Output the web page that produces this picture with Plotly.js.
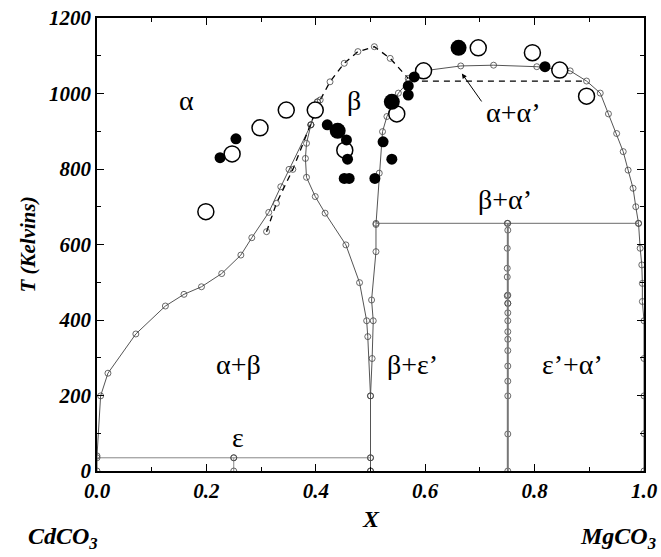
<html><head><script src="https://cdn.plot.ly/plotly-3.0.1.min.js"></script></head><body style="margin:0">
<div id="c" style="width:661px;height:557px"></div>
<script>
// alpha / alpha+beta boundary (solid)
const aX=[0,0,0.0066,0.020,0.071,0.125,0.159,0.191,0.228,0.263,0.283,0.314,0.336,0.351,0.391,0.403];
const aT=[0,40,199,259,363,437,468,488,523,572,618,685,753,799,917,978];
// beta left boundary (solid)
const bLX=[0.403,0.391,0.383,0.381,0.383,0.399,0.417,0.455,0.480,0.493,0.495,0.500,0.500,0.500];
const bLT=[978,917,868,828,778,727,683,599,499,398,356,199,35,0];
// beta right boundary & alpha' dome (solid)
const bRX=[0.500,0.500,0.503,0.505,0.502,0.510,0.510,0.516,0.522,0.530,0.551,0.570,0.578,0.597,0.665,0.725,0.804,0.865,0.895,0.920,0.935,0.950,0.962,0.971,0.980,0.985,0.990,0.993,0.996,0.997,0.997,1.0,1.0,1.0,1.0,1.0];
const bRT=[0,199,298,398,453,581,653,789,899,939,1001,1033,1044,1060,1073,1075,1071,1060,1033,1001,946,894,846,797,749,700,656,590,546,497,449,398,298,199,99,0];
// dashed curve
const dX=[0.310,0.328,0.358,0.391,0.408,0.426,0.452,0.477,0.507,0.536,0.569];
const dT=[634,709,799,917,983,1031,1080,1111,1124,1093,1040];
const dHX=[0.594,0.895], dHT=[1033,1033];
// beta+eps' tie line and eps' vertical
const tX=[0.510,0.75,0.99], tT=[656,656,656];
const vX=[0.751,0.751,0.750,0.750,0.750,0.750,0.751,0.751,0.751,0.751,0.751,0.751,0.751,0.751,0.751,0.751,0.751,0.751,0.751];
const vT=[656,638,590,537,514,464,444,466,419,398,369,349,319,278,238,199,98,0,444];
const eX=[0,0.25,0.5], eT=[35,35,35];
const e2X=[0.25,0.25], e2T=[35,0];
// experimental points
const oX=[0.199,0.247,0.298,0.346,0.399,0.453,0.548,0.597,0.697,0.796,0.846,0.895];
const oT=[687,840,909,956,956,850,946,1060,1121,1108,1062,993];
const fX=[0.225,0.254,0.421,0.456,0.458,0.452,0.461,0.508,0.523,0.539,0.569,0.569,0.580,0.819];
const fT=[830,880,917,877,826,775,775,775,872,826,996,1020,1044,1071];
const FX=[0.440,0.539,0.661], FT=[901,978,1121];

const ln={color:'#555',width:1};
const mk={symbol:'circle-open',size:6,color:'#444',line:{width:0.8}};
const tr=[
 {x:aX,y:aT,mode:'lines+markers',line:ln,marker:mk},
 {x:bLX,y:bLT,mode:'lines+markers',line:ln,marker:mk},
 {x:bRX,y:bRT,mode:'lines+markers',line:ln,marker:mk},
 {x:dX,y:dT,mode:'lines+markers',line:{color:'#000',width:1.3,dash:'6px,5px'},marker:mk},
 {x:dHX,y:dHT,mode:'lines',line:{color:'#000',width:1.3,dash:'6px,5px'}},
 {x:tX,y:tT,mode:'lines+markers',line:{color:'#888',width:1.3},marker:mk},
 {x:vX,y:vT,mode:'markers',marker:mk},
 {x:[0.751,0.751],y:[0,656],mode:'lines',line:{color:'#777',width:2}},
 {x:eX,y:eT,mode:'lines+markers',line:{color:'#888',width:1},marker:mk},
 {x:e2X,y:e2T,mode:'lines+markers',line:{color:'#888',width:1},marker:mk},
 {x:oX,y:oT,mode:'markers',marker:{symbol:'circle',size:16,color:'#fff',line:{color:'#000',width:1.5}}},
 {x:fX,y:fT,mode:'markers',marker:{symbol:'circle',size:11,color:'#000'}},
 {x:FX,y:FT,mode:'markers',marker:{symbol:'circle',size:16,color:'#000'}}
];
const ax={showgrid:false,zeroline:false,showline:true,mirror:'ticks',linecolor:'#000',linewidth:1.5,ticks:'inside',ticklen:7,tickcolor:'#000',
 tickfont:{family:'Liberation Serif',size:21,weight:'bold',style:'italic',color:'#000'}};
const lab=(x,y,t)=>({x:x,y:y,text:t,showarrow:false,font:{family:'Liberation Serif',size:28,color:'#000'}});
const bl=(x,y,t,xa)=>({xref:'paper',yref:'paper',x:x,y:y,xanchor:xa||'center',text:t,showarrow:false,font:{family:'Liberation Serif',size:24,weight:'bold',style:'italic',color:'#000'}});
Plotly.newPlot('c',tr,{
 width:661,height:557,showlegend:false,margin:{l:97,r:17,t:18,b:86},paper_bgcolor:'#fff',plot_bgcolor:'#fff',
 xaxis:Object.assign({},ax,{range:[0,1],dtick:0.2,tickformat:'.1f',minor:{dtick:0.1,ticks:'inside',ticklen:4,tickcolor:'#000'}}),
 yaxis:Object.assign({},ax,{range:[0,1200],dtick:200,minor:{dtick:100,ticks:'inside',ticklen:4,tickcolor:'#000'},
   title:{text:'T (Kelvins)',standoff:8,font:{family:'Liberation Serif',size:21,weight:'bold',style:'italic',color:'#000'}}}),
 annotations:[
  lab(0.163,982,'α'),lab(0.47,982,'β'),lab(0.76,950,'α+α’'),lab(0.746,718,'β+α’'),
  lab(0.258,283,'α+β'),lab(0.576,283,'β+ε’'),lab(0.87,283,'ε’+α’'),lab(0.258,90,'ε'),
  {x:0.667,y:1053,ax:0.705,ay:975,axref:'x',ayref:'y',text:'',showarrow:true,arrowhead:2,arrowsize:1,arrowwidth:1,arrowcolor:'#000'},
  bl(0.5,-0.14,'X'),bl(-0.13,-0.185,'CdCO<sub>3</sub>','left'),bl(1.025,-0.185,'MgCO<sub>3</sub>','right')
 ]
},{displayModeBar:false});
</script></body></html>
